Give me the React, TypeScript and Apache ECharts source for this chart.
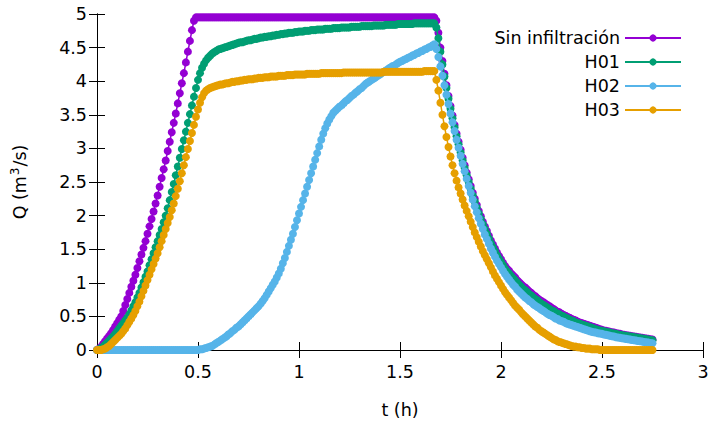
import React, { useEffect, useRef } from "react";
import * as echarts from "echarts";

// time (h)
const T = [
  0, 0.01, 0.02, 0.03, 0.04, 0.05, 0.06, 0.07, 0.08, 0.09,
  0.1, 0.11, 0.12, 0.13, 0.14, 0.15, 0.16, 0.17, 0.18, 0.19,
  0.2, 0.21, 0.22, 0.23, 0.24, 0.25, 0.26, 0.27, 0.28, 0.29,
  0.3, 0.31, 0.32, 0.33, 0.34, 0.35, 0.36, 0.37, 0.38, 0.39,
  0.4, 0.41, 0.42, 0.43, 0.44, 0.45, 0.46, 0.47, 0.48, 0.49,
  0.5, 0.51, 0.52, 0.53, 0.54, 0.55, 0.56, 0.57, 0.58, 0.59,
  0.6, 0.61, 0.62, 0.63, 0.64, 0.65, 0.66, 0.67, 0.68, 0.69,
  0.7, 0.71, 0.72, 0.73, 0.74, 0.75, 0.76, 0.77, 0.78, 0.79,
  0.8, 0.81, 0.82, 0.83, 0.84, 0.85, 0.86, 0.87, 0.88, 0.89,
  0.9, 0.91, 0.92, 0.93, 0.94, 0.95, 0.96, 0.97, 0.98, 0.99,
  1, 1.01, 1.02, 1.03, 1.04, 1.05, 1.06, 1.07, 1.08, 1.09,
  1.1, 1.11, 1.12, 1.13, 1.14, 1.15, 1.16, 1.17, 1.18, 1.19,
  1.2, 1.21, 1.22, 1.23, 1.24, 1.25, 1.26, 1.27, 1.28, 1.29,
  1.3, 1.31, 1.32, 1.33, 1.34, 1.35, 1.36, 1.37, 1.38, 1.39,
  1.4, 1.41, 1.42, 1.43, 1.44, 1.45, 1.46, 1.47, 1.48, 1.49,
  1.5, 1.51, 1.52, 1.53, 1.54, 1.55, 1.56, 1.57, 1.58, 1.59,
  1.6, 1.61, 1.62, 1.63, 1.64, 1.65, 1.66, 1.67, 1.68, 1.69,
  1.7, 1.71, 1.72, 1.73, 1.74, 1.75, 1.76, 1.77, 1.78, 1.79,
  1.8, 1.81, 1.82, 1.83, 1.84, 1.85, 1.86, 1.87, 1.88, 1.89,
  1.9, 1.91, 1.92, 1.93, 1.94, 1.95, 1.96, 1.97, 1.98, 1.99,
  2, 2.01, 2.02, 2.03, 2.04, 2.05, 2.06, 2.07, 2.08, 2.09,
  2.1, 2.11, 2.12, 2.13, 2.14, 2.15, 2.16, 2.17, 2.18, 2.19,
  2.2, 2.21, 2.22, 2.23, 2.24, 2.25, 2.26, 2.27, 2.28, 2.29,
  2.3, 2.31, 2.32, 2.33, 2.34, 2.35, 2.36, 2.37, 2.38, 2.39,
  2.4, 2.41, 2.42, 2.43, 2.44, 2.45, 2.46, 2.47, 2.48, 2.49,
  2.5, 2.51, 2.52, 2.53, 2.54, 2.55, 2.56, 2.57, 2.58, 2.59,
  2.6, 2.61, 2.62, 2.63, 2.64, 2.65, 2.66, 2.67, 2.68, 2.69,
  2.7, 2.71, 2.72, 2.73, 2.74, 2.75,
];

// Q (m3/s) — Sin infiltración
const SIN_INFILTRACION = [
  0, 0.02, 0.05, 0.09, 0.13, 0.17, 0.21, 0.25, 0.3, 0.35,
  0.4, 0.45, 0.5, 0.58, 0.67, 0.76, 0.85, 0.94, 1.03, 1.12,
  1.22, 1.32, 1.42, 1.52, 1.62, 1.73, 1.84, 1.95, 2.06, 2.18,
  2.3, 2.43, 2.56, 2.69, 2.82, 2.96, 3.1, 3.24, 3.38, 3.52,
  3.67, 3.82, 3.97, 4.12, 4.28, 4.44, 4.6, 4.76, 4.9, 4.95,
  4.95, 4.95, 4.95, 4.95, 4.95, 4.95, 4.95, 4.95, 4.95, 4.95,
  4.95, 4.95, 4.95, 4.95, 4.95, 4.95, 4.95, 4.95, 4.95, 4.95,
  4.95, 4.95, 4.95, 4.95, 4.95, 4.95, 4.95, 4.95, 4.95, 4.95,
  4.95, 4.95, 4.95, 4.95, 4.95, 4.95, 4.95, 4.95, 4.95, 4.95,
  4.95, 4.95, 4.95, 4.95, 4.95, 4.95, 4.95, 4.95, 4.95, 4.95,
  4.95, 4.95, 4.95, 4.95, 4.95, 4.95, 4.95, 4.95, 4.95, 4.95,
  4.95, 4.95, 4.95, 4.95, 4.95, 4.95, 4.95, 4.95, 4.95, 4.95,
  4.95, 4.95, 4.95, 4.95, 4.95, 4.95, 4.95, 4.95, 4.95, 4.95,
  4.95, 4.95, 4.95, 4.95, 4.95, 4.95, 4.95, 4.95, 4.95, 4.95,
  4.95, 4.95, 4.95, 4.95, 4.95, 4.95, 4.95, 4.95, 4.95, 4.95,
  4.95, 4.95, 4.95, 4.95, 4.95, 4.95, 4.95, 4.95, 4.95, 4.95,
  4.95, 4.95, 4.95, 4.95, 4.95, 4.95, 4.95, 4.95, 4.9, 4.72,
  4.5, 4.3, 4.11, 3.94, 3.78, 3.63, 3.49, 3.35, 3.22, 3.1,
  2.98, 2.86, 2.75, 2.64, 2.54, 2.44, 2.34, 2.25, 2.16, 2.07,
  1.99, 1.91, 1.84, 1.77, 1.7, 1.63, 1.57, 1.51, 1.45, 1.4,
  1.35, 1.3, 1.25, 1.21, 1.18, 1.14, 1.11, 1.08, 1.04, 1.01,
  0.98, 0.95, 0.93, 0.9, 0.87, 0.85, 0.82, 0.8, 0.77, 0.75,
  0.73, 0.71, 0.69, 0.67, 0.65, 0.63, 0.61, 0.59, 0.57, 0.56,
  0.54, 0.52, 0.51, 0.49, 0.48, 0.46, 0.45, 0.44, 0.42, 0.41,
  0.4, 0.39, 0.38, 0.37, 0.36, 0.35, 0.34, 0.33, 0.32, 0.31,
  0.3, 0.29, 0.285, 0.28, 0.27, 0.265, 0.26, 0.25, 0.245, 0.24,
  0.23, 0.225, 0.22, 0.215, 0.21, 0.205, 0.2, 0.195, 0.19, 0.185,
  0.18, 0.175, 0.17, 0.165, 0.16, 0.155,
];

// Q (m3/s) — H01
const H01 = [
  0, 0.01, 0.03, 0.05, 0.08, 0.11, 0.14, 0.17, 0.2, 0.24,
  0.28, 0.32, 0.36, 0.4, 0.44, 0.48, 0.53, 0.59, 0.65, 0.71,
  0.78, 0.85, 0.93, 1.01, 1.09, 1.17, 1.26, 1.35, 1.44, 1.53,
  1.62, 1.71, 1.8, 1.9, 2.0, 2.11, 2.23, 2.35, 2.47, 2.6,
  2.73, 2.86, 2.99, 3.12, 3.25, 3.38, 3.51, 3.64, 3.77, 3.9,
  4.02, 4.12, 4.2, 4.26, 4.31, 4.35, 4.38, 4.41, 4.43, 4.45,
  4.47, 4.48, 4.49, 4.5, 4.51, 4.52, 4.53, 4.54, 4.55, 4.56,
  4.57, 4.58, 4.58, 4.59, 4.6, 4.61, 4.61, 4.62, 4.63, 4.63,
  4.64, 4.65, 4.65, 4.66, 4.66, 4.67, 4.67, 4.68, 4.68, 4.69,
  4.69, 4.7, 4.7, 4.71, 4.71, 4.72, 4.72, 4.72, 4.73, 4.73,
  4.74, 4.74, 4.74, 4.75, 4.75, 4.75, 4.76, 4.76, 4.76, 4.77,
  4.77, 4.77, 4.77, 4.78, 4.78, 4.78, 4.78, 4.79, 4.79, 4.79,
  4.79, 4.8, 4.8, 4.8, 4.8, 4.8, 4.81, 4.81, 4.81, 4.81,
  4.81, 4.82, 4.82, 4.82, 4.82, 4.82, 4.82, 4.83, 4.83, 4.83,
  4.83, 4.83, 4.83, 4.84, 4.84, 4.84, 4.84, 4.84, 4.84, 4.85,
  4.85, 4.85, 4.85, 4.85, 4.85, 4.85, 4.85, 4.86, 4.86, 4.86,
  4.86, 4.86, 4.86, 4.86, 4.86, 4.86, 4.86, 4.86, 4.8, 4.64,
  4.44, 4.25, 4.07, 3.9, 3.74, 3.59, 3.45, 3.31, 3.18, 3.06,
  2.94, 2.82, 2.71, 2.6, 2.5, 2.4, 2.3, 2.21, 2.12, 2.03,
  1.95, 1.87, 1.8, 1.73, 1.66, 1.59, 1.53, 1.47, 1.41, 1.36,
  1.31, 1.26, 1.21, 1.17, 1.14, 1.1, 1.07, 1.04, 1.0, 0.97,
  0.94, 0.91, 0.89, 0.86, 0.83, 0.81, 0.78, 0.76, 0.74, 0.71,
  0.69, 0.67, 0.65, 0.63, 0.61, 0.59, 0.58, 0.56, 0.54, 0.53,
  0.51, 0.5, 0.48, 0.47, 0.45, 0.44, 0.43, 0.41, 0.4, 0.39,
  0.38, 0.37, 0.36, 0.35, 0.34, 0.33, 0.32, 0.31, 0.3, 0.29,
  0.285, 0.28, 0.27, 0.265, 0.26, 0.25, 0.245, 0.24, 0.23, 0.225,
  0.22, 0.215, 0.21, 0.205, 0.2, 0.195, 0.19, 0.185, 0.18, 0.175,
  0.17, 0.165, 0.16, 0.155, 0.15, 0.145,
];

// Q (m3/s) — H02
const H02 = [
  0, 0, 0, 0, 0, 0, 0, 0, 0, 0,
  0, 0, 0, 0, 0, 0, 0, 0, 0, 0,
  0, 0, 0, 0, 0, 0, 0, 0, 0, 0,
  0, 0, 0, 0, 0, 0, 0, 0, 0, 0,
  0, 0, 0, 0, 0, 0, 0, 0, 0, 0,
  0, 0.01, 0.01, 0.02, 0.03, 0.04, 0.05, 0.06, 0.08, 0.1,
  0.12, 0.14, 0.16, 0.18, 0.2, 0.23, 0.25, 0.28, 0.3, 0.33,
  0.35, 0.38, 0.41, 0.44, 0.47, 0.5, 0.53, 0.56, 0.59, 0.62,
  0.65, 0.69, 0.73, 0.77, 0.82, 0.87, 0.92, 0.97, 1.02, 1.08,
  1.14, 1.21, 1.29, 1.37, 1.46, 1.55, 1.64, 1.73, 1.83, 1.93,
  2.03, 2.13, 2.23, 2.33, 2.43, 2.53, 2.63, 2.73, 2.83, 2.93,
  3.03, 3.13, 3.22, 3.3, 3.37, 3.43, 3.48, 3.53, 3.56, 3.59,
  3.62, 3.64, 3.67, 3.7, 3.72, 3.75, 3.78, 3.8, 3.83, 3.85,
  3.88, 3.9, 3.93, 3.96, 3.98, 4.0, 4.02, 4.04, 4.06, 4.08,
  4.1, 4.12, 4.14, 4.16, 4.18, 4.2, 4.22, 4.23, 4.25, 4.27,
  4.29, 4.3, 4.32, 4.33, 4.35, 4.36, 4.38, 4.39, 4.41, 4.42,
  4.44, 4.45, 4.47, 4.48, 4.5, 4.51, 4.53, 4.55, 4.48, 4.36,
  4.22, 4.08, 3.94, 3.8, 3.66, 3.52, 3.39, 3.26, 3.13, 3.01,
  2.89, 2.77, 2.66, 2.55, 2.44, 2.34, 2.24, 2.14, 2.05, 1.96,
  1.88, 1.8, 1.72, 1.65, 1.58, 1.51, 1.45, 1.39, 1.33, 1.28,
  1.23, 1.18, 1.13, 1.09, 1.05, 1.01, 0.97, 0.94, 0.9, 0.87,
  0.84, 0.81, 0.78, 0.76, 0.73, 0.71, 0.68, 0.66, 0.64, 0.62,
  0.6, 0.58, 0.56, 0.54, 0.52, 0.51, 0.49, 0.47, 0.46, 0.44,
  0.43, 0.42, 0.4, 0.39, 0.38, 0.37, 0.36, 0.35, 0.34, 0.33,
  0.32, 0.31, 0.3, 0.29, 0.28, 0.27, 0.265, 0.26, 0.25, 0.245,
  0.24, 0.23, 0.225, 0.22, 0.21, 0.205, 0.2, 0.19, 0.185, 0.18,
  0.175, 0.17, 0.165, 0.16, 0.155, 0.15, 0.145, 0.14, 0.135, 0.13,
  0.125, 0.12, 0.115, 0.11, 0.105, 0.1,
];

// Q (m3/s) — H03
const H03 = [
  0, 0, 0, 0.01, 0.02, 0.04, 0.06, 0.09, 0.12, 0.15,
  0.18, 0.21, 0.24, 0.28, 0.32, 0.37, 0.42, 0.47, 0.52, 0.58,
  0.65, 0.72, 0.8, 0.88, 0.96, 1.04, 1.12, 1.2, 1.28, 1.36,
  1.44, 1.53, 1.62, 1.71, 1.8, 1.89, 1.98, 2.08, 2.18, 2.29,
  2.4, 2.51, 2.63, 2.75, 2.87, 2.99, 3.11, 3.23, 3.35, 3.47,
  3.58, 3.68, 3.76, 3.82, 3.86, 3.88, 3.9, 3.91, 3.92, 3.93,
  3.94, 3.95, 3.95, 3.96, 3.97, 3.97, 3.98, 3.99, 3.99, 4.0,
  4.0, 4.01, 4.01, 4.02, 4.02, 4.03, 4.03, 4.03, 4.04, 4.04,
  4.05, 4.05, 4.05, 4.06, 4.06, 4.06, 4.07, 4.07, 4.07, 4.07,
  4.08, 4.08, 4.08, 4.08, 4.09, 4.09, 4.09, 4.09, 4.1, 4.1,
  4.1, 4.1, 4.1, 4.1, 4.11, 4.11, 4.11, 4.11, 4.11, 4.11,
  4.11, 4.12, 4.12, 4.12, 4.12, 4.12, 4.12, 4.12, 4.12, 4.12,
  4.12, 4.12, 4.13, 4.13, 4.13, 4.13, 4.13, 4.13, 4.13, 4.13,
  4.13, 4.13, 4.13, 4.13, 4.13, 4.13, 4.13, 4.13, 4.13, 4.13,
  4.13, 4.13, 4.14, 4.14, 4.14, 4.14, 4.14, 4.14, 4.14, 4.14,
  4.14, 4.14, 4.14, 4.14, 4.14, 4.14, 4.14, 4.14, 4.14, 4.14,
  4.14, 4.14, 4.15, 4.15, 4.15, 4.15, 4.15, 4.15, 4.02, 3.86,
  3.68, 3.5, 3.33, 3.17, 3.02, 2.88, 2.75, 2.63, 2.52, 2.42,
  2.33, 2.24, 2.15, 2.07, 1.99, 1.91, 1.83, 1.75, 1.68, 1.61,
  1.54, 1.47, 1.41, 1.35, 1.29, 1.23, 1.17, 1.11, 1.06, 1.01,
  0.96, 0.91, 0.86, 0.82, 0.78, 0.74, 0.7, 0.66, 0.63, 0.6,
  0.56, 0.53, 0.5, 0.47, 0.44, 0.41, 0.38, 0.35, 0.33, 0.3,
  0.28, 0.26, 0.24, 0.22, 0.2, 0.18, 0.16, 0.15, 0.13, 0.12,
  0.11, 0.1, 0.09, 0.08, 0.07, 0.06, 0.05, 0.05, 0.04, 0.04,
  0.03, 0.03, 0.02, 0.02, 0.02, 0.01, 0.01, 0.01, 0.01, 0,
  0, 0, 0, 0, 0, 0, 0, 0, 0, 0,
  0, 0, 0, 0, 0, 0, 0, 0, 0, 0,
  0, 0, 0, 0, 0, 0,
];

const SERIES_NAMES = ["Sin infiltración", "H01", "H02", "H03"];
const SERIES_VALUES = [SIN_INFILTRACION, H01, H02, H03];
const COLORS = ["#9400d3", "#009e73", "#56b4e9", "#e69f00"];
const X_TITLE = "t (h)";
const Y_TITLE = "Q (m{sup|3}/s)";

export default function App() {
  const ref = useRef<HTMLDivElement>(null);
  useEffect(() => {
    const chart = echarts.init(ref.current!, null, { renderer: "svg" });
    const font = "DejaVu Sans";
    const fs = 17.5;
    const axisCommon = {
      axisLine: { show: true, lineStyle: { color: "#000", width: 1 } },
      axisTick: { show: true, inside: true, length: 8, lineStyle: { color: "#000", width: 1 } },
      splitLine: { show: false },
    };
    chart.setOption({
      animation: false,
      textStyle: { fontFamily: font },
      grid: { left: 97, right: 10, top: 14, bottom: 75 },
      legend: {
        orient: "vertical",
        align: "right",
        right: 31,
        top: 29,
        padding: 0,
        itemWidth: 56,
        itemHeight: 9,
        itemGap: 6,
        textStyle: { fontFamily: font, fontSize: fs, color: "#000" },
        data: SERIES_NAMES,
      },
      xAxis: [
        {
          type: "value",
          position: "bottom",
          min: 0,
          max: 3,
          interval: 0.5,
          ...axisCommon,
          axisLabel: { fontFamily: font, fontSize: fs, color: "#000", margin: 13 },
          name: X_TITLE,
          nameLocation: "middle",
          nameGap: 51,
          nameTextStyle: { fontFamily: font, fontSize: fs, color: "#000" },
        },
        {
          type: "value",
          position: "top",
          min: 0,
          max: 3,
          interval: 0.5,
          ...axisCommon,
          axisLabel: { show: false },
        },
      ],
      yAxis: [
        {
          type: "value",
          position: "left",
          min: 0,
          max: 5,
          interval: 0.5,
          ...axisCommon,
          axisLabel: { fontFamily: font, fontSize: fs, color: "#000", margin: 10 },
          name: Y_TITLE,
          nameLocation: "middle",
          nameRotate: 90,
          nameGap: 66,
          nameTextStyle: {
            fontFamily: font,
            fontSize: fs,
            color: "#000",
            lineHeight: 22,
            rich: {
              sup: {
                fontFamily: font,
                fontSize: 12,
                color: "#000",
                lineHeight: 22,
                verticalAlign: "top",
                padding: [0, 1, 6, 1],
              },
            },
          },
        },
        {
          type: "value",
          position: "right",
          min: 0,
          max: 5,
          interval: 0.5,
          ...axisCommon,
          axisLabel: { show: false },
        },
      ],
      series: SERIES_VALUES.map((vals, k) => ({
        name: SERIES_NAMES[k],
        type: "line",
        xAxisIndex: 0,
        yAxisIndex: 0,
        data: vals.map((q, i) => [T[i], q]),
        symbol: "circle",
        symbolSize: 8,
        showSymbol: true,
        showAllSymbol: true,
        clip: false,
        color: COLORS[k],
        lineStyle: { width: 1.5, color: COLORS[k] },
        itemStyle: { color: COLORS[k] },
        z: 2 + k,
      })),
    });
    return () => chart.dispose();
  }, []);
  return <div ref={ref} style={{ position: "absolute", left: 0, top: 0, width: 713, height: 425 }} />;
}
